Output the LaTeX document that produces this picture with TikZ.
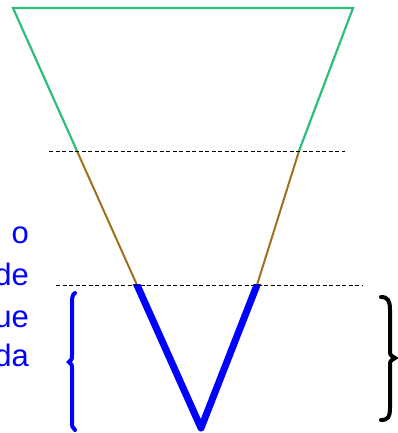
\documentclass[tikz,border=0pt]{standalone}
\usepackage{fontspec}
\usetikzlibrary{calc}
\setmainfont{Liberation Sans}
\definecolor{mint}{RGB}{45,190,125}
\definecolor{brn}{RGB}{160,112,30}
\definecolor{vblue}{RGB}{0,0,255}
\begin{document}
\begin{tikzpicture}[x=1pt,y=-1pt,
  greenline/.style={draw=mint,line width=2.2pt},
  brownline/.style={draw=brn,line width=2pt},
  blueV/.style={draw=vblue,line width=7pt,line join=round},
  guide/.style={draw=black,dashed,line width=0.9pt,dash pattern=on 4pt off 2.5pt},
  lbl/.style={text=vblue,font=\fontsize{31}{36}\selectfont,anchor=base east,inner sep=0pt},
  bracel/.style={draw=vblue,line width=4pt,line cap=round},
  bracer/.style={draw=black,line width=4pt,line cap=round}]
\useasboundingbox (0,0) rectangle (397,433);
% points
\coordinate (TL) at (13,8);
\coordinate (TR) at (353,8);
\coordinate (ML) at (77,151);
\coordinate (MR) at (299,151);
\coordinate (BL) at (137,285);
\coordinate (BR) at (257,285);
\coordinate (V) at (201,428);
\coordinate (d1a) at (49,151);
\coordinate (d1b) at (345,151);
\coordinate (d2a) at (56,285);
\coordinate (d2b) at (363,285);
% funnel
\draw[greenline,line join=miter] (ML) -- (TL) -- (TR) -- (MR);
\draw[brownline] (ML) -- (BL);
\draw[brownline] (MR) -- (BR);
\begin{scope}
\clip (100,284) rectangle (300,433);
\draw[blueV] ($(BL)!-0.04!(V)$) -- (V) -- ($(BR)!-0.04!(V)$);
\end{scope}
% dashed guides
\draw[guide] (d1a) -- (d1b);
\draw[guide] (d2a) -- (d2b);
% text
\node[lbl] (t1) at (29,243) {o};
\node[lbl] (t2) at (29,285) {de};
\node[lbl] (t3) at (29,327) {ue};
\node[lbl] (t4) at (29,366) {da};
% left brace (blue)
\coordinate (lb1) at (75,293);
\coordinate (lb2) at (69,362);
\coordinate (lb3) at (75,430);
\draw[bracel] (lb1) .. controls (72,295) and (72,298) .. (72,305) -- (72,355)
  .. controls (72,359) .. (lb2) .. controls (72,365) .. (72,369) -- (72,420)
  .. controls (72,426) and (72,428) .. (lb3);
% right brace (black)
\coordinate (rb1) at (381,297);
\coordinate (rb2) at (395,358);
\coordinate (rb3) at (381,420);
\draw[bracer] (rb1) .. controls (388,297) and (390,301) .. (390,310) -- (390,350)
  .. controls (390,355) .. (rb2) .. controls (390,361) .. (390,366) -- (390,408)
  .. controls (390,417) and (388,420) .. (rb3);
\end{tikzpicture}
\end{document}
